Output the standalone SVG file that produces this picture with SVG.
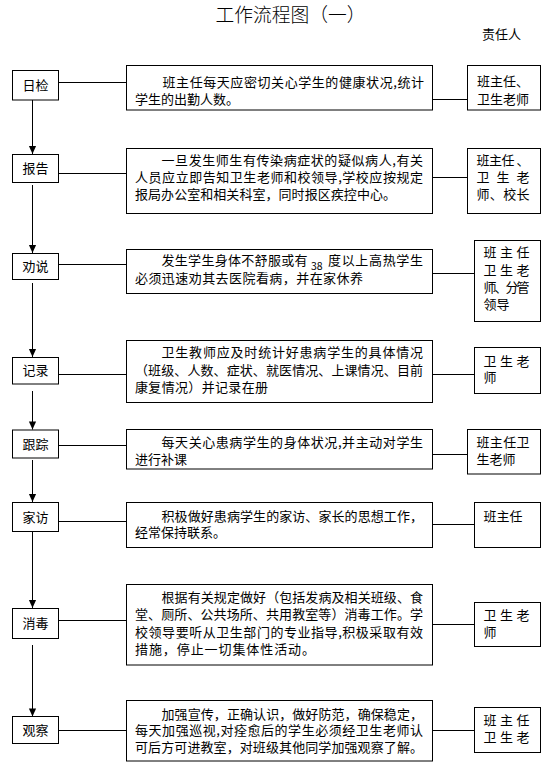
<svg xmlns="http://www.w3.org/2000/svg" width="553" height="783" viewBox="0 0 553 783">
<style>
.box{fill:#fff;stroke:#000;stroke-width:1}
.ln{fill:none;stroke:#000;stroke-width:1}
.t{font-family:"Noto Sans CJK SC","Noto Sans CJK JP",sans-serif;font-size:13px;fill:#000}
.c{text-anchor:middle}
.title{font-family:"Noto Sans CJK SC","Noto Sans CJK JP",sans-serif;font-size:19px;fill:#000;font-weight:300}
</style>
<defs>
<marker id="arr" viewBox="0 -5 10 10" refX="9" refY="0" markerWidth="9" markerHeight="9" markerUnits="userSpaceOnUse" orient="auto">
<path d="M0,-4 L9,0 L0,4 z" fill="#000"/>
</marker>
</defs>
<rect width="553" height="783" fill="#fff"/>
<text class="title" x="215.5" y="21.5" textLength="150" lengthAdjust="spacingAndGlyphs">工作流程图（一）</text>
<text class="t" x="482" y="38.5">责任人</text>

<g id="connectors">
<line class="ln" x1="32.5" y1="100" x2="32.5" y2="154" marker-end="url(#arr)"/>
<line class="ln" x1="32.5" y1="185" x2="32.5" y2="253" marker-end="url(#arr)"/>
<line class="ln" x1="32.5" y1="283" x2="32.5" y2="357" marker-end="url(#arr)"/>
<line class="ln" x1="32.5" y1="391" x2="32.5" y2="429.5" marker-end="url(#arr)"/>
<line class="ln" x1="32.5" y1="460" x2="32.5" y2="502" marker-end="url(#arr)"/>
<line class="ln" x1="32.5" y1="531" x2="32.5" y2="608" marker-end="url(#arr)"/>
<line class="ln" x1="32.5" y1="645" x2="32.5" y2="716.5" marker-end="url(#arr)"/>
<line class="ln" x1="58.5" y1="82.5" x2="126.5" y2="82.5"/>
<line class="ln" x1="432.5" y1="99.5" x2="467.5" y2="99.5"/>
<line class="ln" x1="58.5" y1="173.5" x2="126.5" y2="173.5"/>
<line class="ln" x1="432.5" y1="177.5" x2="467.5" y2="177.5"/>
<line class="ln" x1="58.5" y1="264.5" x2="126.5" y2="264.5"/>
<line class="ln" x1="432.5" y1="273.5" x2="474.5" y2="273.5"/>
<line class="ln" x1="58.5" y1="374.5" x2="126.5" y2="374.5"/>
<line class="ln" x1="432.5" y1="374.5" x2="474.5" y2="374.5"/>
<line class="ln" x1="58.5" y1="445.5" x2="126.5" y2="445.5"/>
<line class="ln" x1="432.5" y1="454.5" x2="467.5" y2="454.5"/>
<line class="ln" x1="58.5" y1="521.5" x2="126.5" y2="521.5"/>
<line class="ln" x1="432.5" y1="524.5" x2="474.5" y2="524.5"/>
<line class="ln" x1="58.5" y1="620.5" x2="126.5" y2="620.5"/>
<line class="ln" x1="432.5" y1="624.5" x2="474.5" y2="624.5"/>
<line class="ln" x1="58.5" y1="730.5" x2="126.5" y2="730.5"/>
<line class="ln" x1="432.5" y1="730.5" x2="474.5" y2="730.5"/>
</g>

<g id="step-rijian">
<rect class="box" x="12.5" y="70.5" width="46" height="29.5"/>
<text class="t c" x="35.5" y="89.5">日检</text>
</g>
<g id="desc-rijian">
<rect class="box" x="126.5" y="65.5" width="306" height="44.5"/>
<text class="t" x="162.5" y="87" textLength="261.5" lengthAdjust="spacing">班主任每天应密切关心学生的健康状况,统计</text>
<text class="t" x="135" y="103.5">学生的出勤人数。</text>
</g>
<g id="resp-rijian">
<rect class="box" x="467.5" y="65.5" width="73" height="44.5"/>
<text class="t" x="477" y="85.5">班主任、</text>
<text class="t" x="477" y="103.5">卫生老师</text>
</g>

<g id="step-baogao">
<rect class="box" x="12.5" y="154.5" width="46" height="28"/>
<text class="t c" x="35.5" y="173">报告</text>
</g>
<g id="desc-baogao">
<rect class="box" x="126.5" y="148.5" width="306" height="65"/>
<text class="t" x="161.5" y="165" textLength="261.5" lengthAdjust="spacing">一旦发生师生有传染病症状的疑似病人,有关</text>
<text class="t" x="135" y="182" textLength="288" lengthAdjust="spacing">人员应立即告知卫生老师和校领导,学校应按规定</text>
<text class="t" x="135" y="199" textLength="261" lengthAdjust="spacing">报局办公室和相关科室，同时报区疾控中心。</text>
</g>
<g id="resp-baogao">
<rect class="box" x="467.5" y="148.5" width="73" height="65"/>
<text class="t" x="476.5" y="165" textLength="53" lengthAdjust="spacing">班主任 、</text>
<text class="t" x="476.5" y="182" textLength="53" lengthAdjust="spacing">卫 生 老</text>
<text class="t" x="476.5" y="199" textLength="53" lengthAdjust="spacing">师、校长</text>
</g>

<g id="step-quanshuo">
<rect class="box" x="12.5" y="253.5" width="46" height="26"/>
<text class="t c" x="35.5" y="271">劝说</text>
</g>
<g id="desc-quanshuo">
<rect class="box" x="126.5" y="249.5" width="306" height="44"/>
<text class="t" x="161.5" y="265" textLength="146" lengthAdjust="spacing">发生学生身体不舒服或有</text>
<text class="t" x="311" y="269.5" style="font-size:10.5px">38</text>
<text class="t" x="328" y="265" textLength="95" lengthAdjust="spacing">度以上高热学生</text>
<text class="t" x="135" y="283" textLength="228" lengthAdjust="spacing">必须迅速劝其去医院看病，并在家休养</text>
</g>
<g id="resp-quanshuo">
<rect class="box" x="474.5" y="240.5" width="66" height="81"/>
<text class="t" x="483.5" y="257" textLength="46" lengthAdjust="spacing">班 主 任</text>
<text class="t" x="483.5" y="275" textLength="46" lengthAdjust="spacing">卫 生 老</text>
<text class="t" x="483.5" y="292" textLength="46" lengthAdjust="spacing">师、分管</text>
<text class="t" x="483.5" y="308.5">领导</text>
</g>

<g id="step-jilu">
<rect class="box" x="12.5" y="357.5" width="46" height="26.5"/>
<text class="t c" x="35.5" y="375">记录</text>
</g>
<g id="desc-jilu">
<rect class="box" x="126.5" y="340.5" width="306" height="62"/>
<text class="t" x="161.5" y="357" textLength="261.5" lengthAdjust="spacing">卫生教师应及时统计好患病学生的具体情况</text>
<text class="t" x="135" y="374.5" textLength="288" lengthAdjust="spacing">（班级、人数、症状、就医情况、上课情况、目前</text>
<text class="t" x="135" y="392" textLength="133" lengthAdjust="spacing">康复情况）并记录在册</text>
</g>
<g id="resp-jilu">
<rect class="box" x="474.5" y="347.5" width="66" height="46"/>
<text class="t" x="483.5" y="365.5" textLength="46" lengthAdjust="spacing">卫 生 老</text>
<text class="t" x="483.5" y="382">师</text>
</g>

<g id="step-genzong">
<rect class="box" x="12.5" y="430" width="46" height="28"/>
<text class="t c" x="35.5" y="448.5">跟踪</text>
</g>
<g id="desc-genzong">
<rect class="box" x="126.5" y="429.5" width="306" height="39.5"/>
<text class="t" x="161.5" y="447" textLength="261.5" lengthAdjust="spacing">每天关心患病学生的身体状况,并主动对学生</text>
<text class="t" x="135" y="463.5">进行补课</text>
</g>
<g id="resp-genzong">
<rect class="box" x="467.5" y="429.5" width="73" height="44.5"/>
<text class="t" x="476.5" y="447" textLength="53" lengthAdjust="spacing">班主任卫</text>
<text class="t" x="476.5" y="464">生老师</text>
</g>

<g id="step-jiafang">
<rect class="box" x="12.5" y="502.5" width="46" height="29"/>
<text class="t c" x="35.5" y="521.5">家访</text>
</g>
<g id="desc-jiafang">
<rect class="box" x="126.5" y="502.5" width="306" height="45"/>
<text class="t" x="161.5" y="520.5" textLength="261.5" lengthAdjust="spacing">积极做好患病学生的家访、家长的思想工作，</text>
<text class="t" x="135" y="537">经常保持联系。</text>
</g>
<g id="resp-jiafang">
<rect class="box" x="474.5" y="502.5" width="66" height="45"/>
<text class="t" x="483.5" y="520.5">班主任</text>
</g>

<g id="step-xiaodu">
<rect class="box" x="12.5" y="608.5" width="46" height="30"/>
<text class="t c" x="35.5" y="628">消毒</text>
</g>
<g id="desc-xiaodu">
<rect class="box" x="126.5" y="584.5" width="306" height="80.5"/>
<text class="t" x="161.5" y="602" textLength="261.5" lengthAdjust="spacing">根据有关规定做好（包括发病及相关班级、食</text>
<text class="t" x="135" y="619" textLength="288" lengthAdjust="spacing">堂、厕所、公共场所、共用教室等）消毒工作。学</text>
<text class="t" x="135" y="636.5" textLength="288" lengthAdjust="spacing">校领导要听从卫生部门的专业指导,积极采取有效</text>
<text class="t" x="135" y="653.5" textLength="180" lengthAdjust="spacing">措施，停止一切集体性活动。</text>
</g>
<g id="resp-xiaodu">
<rect class="box" x="474.5" y="602.5" width="66" height="44"/>
<text class="t" x="483.5" y="620" textLength="46" lengthAdjust="spacing">卫 生 老</text>
<text class="t" x="483.5" y="637">师</text>
</g>

<g id="step-guancha">
<rect class="box" x="12.5" y="716.5" width="46" height="27"/>
<text class="t c" x="35.5" y="734.5">观察</text>
</g>
<g id="desc-guancha">
<rect class="box" x="126.5" y="700.5" width="306" height="60.5"/>
<text class="t" x="161.5" y="718.5" textLength="261.5" lengthAdjust="spacing">加强宣传，正确认识，做好防范，确保稳定，</text>
<text class="t" x="135" y="735" textLength="288" lengthAdjust="spacing">每天加强巡视,对痊愈后的学生必须经卫生老师认</text>
<text class="t" x="135" y="752" textLength="288" lengthAdjust="spacing">可后方可进教室，对班级其他同学加强观察了解。</text>
</g>
<g id="resp-guancha">
<rect class="box" x="474.5" y="707.5" width="66" height="45"/>
<text class="t" x="483.5" y="725" textLength="46" lengthAdjust="spacing">班 主 任</text>
<text class="t" x="483.5" y="742" textLength="46" lengthAdjust="spacing">卫 生 老</text>
</g>
</svg>
